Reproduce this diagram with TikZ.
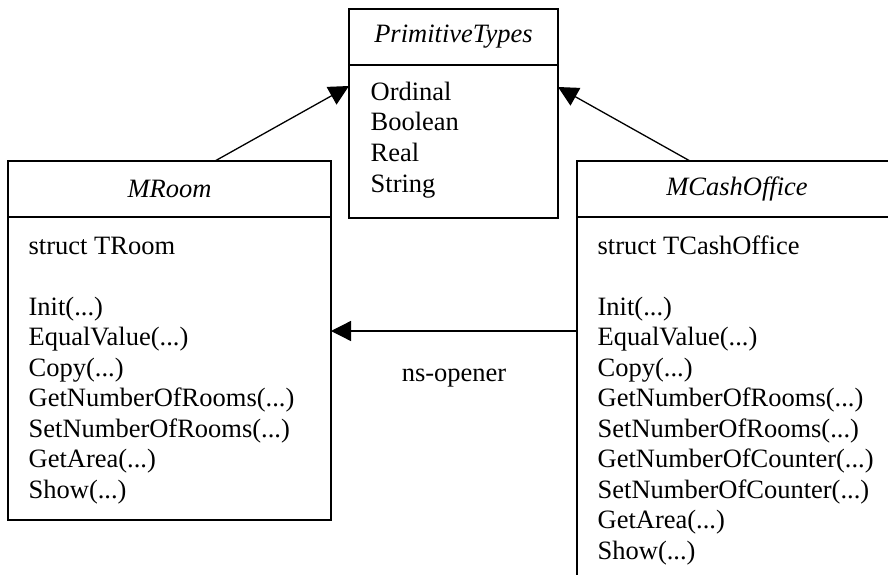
\documentclass[tikz,border=0pt]{standalone}
\usepackage{fontspec}
\setmainfont{Liberation Serif}
\usetikzlibrary{arrows.meta,positioning}
\newcommand{\umlfont}{\fontsize{26.5}{30.5}\selectfont}
\newcommand{\params}{(...)}

\begin{document}
\begin{tikzpicture}[x=1pt, y=-1pt, line width=1.3pt, font=\umlfont,
  class head/.style={draw, rectangle, inner sep=0pt, outer sep=0pt, anchor=north west, minimum height=56pt, font={\umlfont\itshape}},
  class body/.style={draw, rectangle, inner sep=0pt, outer sep=0pt},
  member/.style={anchor=base west, inner sep=0pt},
  inherit/.style={-{Triangle[length=20pt,width=20pt]}}]
\useasboundingbox (0,0) rectangle (888,575);
\clip (0,0) rectangle (888,575);

% base types
\node[class head, minimum width=209pt] (ptypeshead) at (349,9) {PrimitiveTypes};
\node[class body, minimum width=209pt, minimum height=153pt, below=0pt of ptypeshead] (ptypes) {};
\foreach \m [count=\i from 0] in {Ordinal,Boolean,Real,String}
  \node[member] (ptype-\i) at ([shift={(21,35.5+30.5*\i)}]ptypes.north west) {\m};

% room module
\node[class head, minimum width=323pt] (mroomhead) at (8,161) {MRoom};
\node[class body, minimum width=323pt, minimum height=303pt, below=0pt of mroomhead] (mroom) {};
\node[member] (mroom-0) at ([shift={(20,37)}]mroom.north west) {struct TRoom};
\foreach \m [count=\i from 2] in {Init,EqualValue,Copy,GetNumberOfRooms,SetNumberOfRooms,GetArea,Show}
  \node[member] (mroom-\i) at ([shift={(20,37+30.5*\i)}]mroom.north west) {\m\params};

% cash office module (runs off the page)
\node[class head, minimum width=320pt] (mcashhead) at (577,161) {MCashOffice};
\node[class body, minimum width=320pt, minimum height=365pt, below=0pt of mcashhead] (mcash) {};
\node[member] (mcash-0) at ([shift={(20,37)}]mcash.north west) {struct TCashOffice};
\foreach \m [count=\i from 2] in {Init,EqualValue,Copy,GetNumberOfRooms,SetNumberOfRooms,GetNumberOfCounter,SetNumberOfCounter,GetArea,Show}
  \node[member] (mcash-\i) at ([shift={(20,37+30.5*\i)}]mcash.north west) {\m\params};

% links
\draw[inherit] ([shift={(207,0)}]mroomhead.north west) -- ([shift={(0,21)}]ptypes.north west);
\draw[inherit] ([shift={(113,0)}]mcashhead.north west) -- ([shift={(0,22)}]ptypes.north east);
\coordinate (opener) at ([shift={(0,114)}]mcash.north west);
\draw[inherit] (opener) -- (opener -| mroom.east) node[midway, yshift=-47pt] (openerlabel) {ns-opener};
\end{tikzpicture}
\end{document}
